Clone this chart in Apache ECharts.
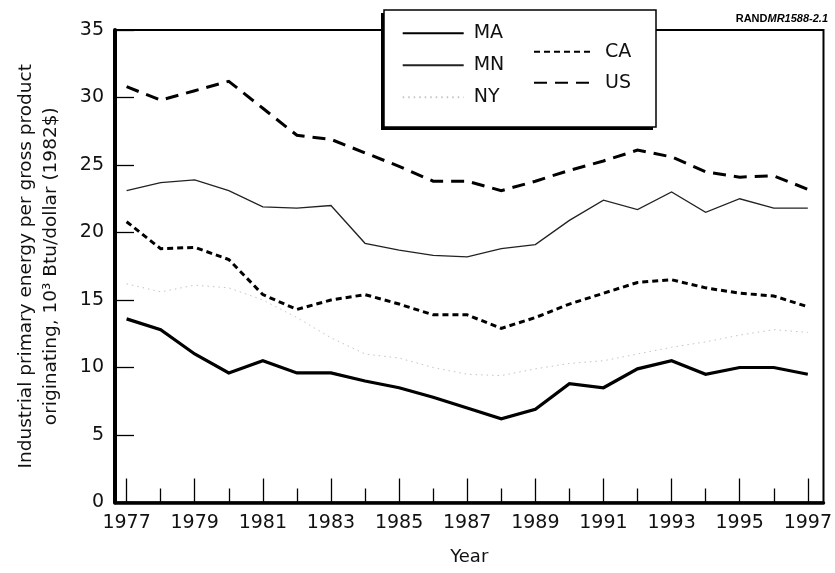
<!DOCTYPE html>
<html>
<head>
<meta charset="utf-8">
<script src="https://cdn.jsdelivr.net/npm/echarts@6/dist/echarts.min.js"></script>
<style>
  html, body { margin: 0; padding: 0; background: #fff; }
  #chart { width: 835px; height: 573px; }
</style>
</head>
<body>
<div id="chart"></div>
<script>
const years = [1977, 1978, 1979, 1980, 1981, 1982, 1983, 1984, 1985, 1986, 1987,
  1988, 1989, 1990, 1991, 1992, 1993, 1994, 1995, 1996, 1997];
const labelYears = [1977, 1979, 1981, 1983, 1985, 1987, 1989, 1991, 1993, 1995, 1997];
const minorYears = [1978, 1980, 1982, 1984, 1986, 1988, 1990, 1992, 1994, 1996];

const ma = [13.6, 12.8, 11.0, 9.6, 10.5, 9.6, 9.6, 9.0, 8.5, 7.8, 7.0, 6.2, 6.9, 8.8, 8.5, 9.9, 10.5, 9.5, 10.0, 10.0, 9.5];
const mn = [23.1, 23.7, 23.9, 23.1, 21.9, 21.8, 22.0, 19.2, 18.7, 18.3, 18.2, 18.8, 19.1, 20.9, 22.4, 21.7, 23.0, 21.5, 22.5, 21.8, 21.8];
const ny = [16.2, 15.6, 16.1, 15.9, 15.0, 13.7, 12.2, 11.0, 10.7, 10.0, 9.5, 9.4, 9.9, 10.3, 10.5, 11.0, 11.5, 11.9, 12.4, 12.8, 12.6];
const ca = [20.8, 18.8, 18.9, 18.0, 15.4, 14.3, 15.0, 15.4, 14.7, 13.9, 13.9, 12.9, 13.7, 14.7, 15.5, 16.3, 16.5, 15.9, 15.5, 15.3, 14.5];
const us = [30.8, 29.8, 30.5, 31.2, 29.2, 27.2, 26.9, 25.9, 24.9, 23.8, 23.8, 23.1, 23.8, 24.6, 25.3, 26.1, 25.6, 24.5, 24.1, 24.2, 23.2];

const font = 'DejaVu Sans';
const pairs = (vals) => years.map((y, i) => [y, vals[i]]);

const chart = echarts.init(document.getElementById('chart'));

const lineSeries = (name, vals, lineStyle) => ({
  name,
  type: 'line',
  data: pairs(vals),
  symbol: 'none',
  xAxisIndex: 0,
  lineStyle: Object.assign({ color: '#000', cap: 'butt', join: 'miter' }, lineStyle),
  itemStyle: { color: lineStyle.color || '#000' },
  z: 2,
});

// legend item: line sample only, no marker
const legendBase = {
  orient: 'vertical',
  padding: 0,
  itemHeight: 14,
  z: 10,
  itemStyle: { opacity: 0, borderWidth: 0 },
  textStyle: { fontFamily: font, fontSize: 19, color: '#111', lineHeight: 20 },
};

chart.setOption({
  backgroundColor: '#fff',
  animation: false,
  title: {
    text: '{a|RAND}{b|MR1588-2.1}',
    right: 2,
    top: 8,
    textStyle: {
      rich: {
        a: { fontFamily: 'Liberation Sans', fontWeight: 'bold', fontSize: 11, color: '#000' },
        b: { fontFamily: 'Liberation Sans', fontStyle: 'italic', fontSize: 11, color: '#000' },
      },
    },
  },
  graphic: [
    { type: 'rect', z: 5, shape: { x: 381, y: 13, width: 272, height: 117 }, style: { fill: '#000' } },
    { type: 'rect', z: 6, shape: { x: 384, y: 10, width: 272, height: 117 }, style: { fill: '#fff', stroke: '#000', lineWidth: 1.5 } },
  ],
  legend: [
    Object.assign({}, legendBase, {
      data: ['MA', 'MN', 'NY'],
      left: 401.7,
      top: 23.3,
      itemWidth: 61,
      itemGap: 12,
      textStyle: Object.assign({}, legendBase.textStyle, { padding: [0, 0, 0, 5] }),
    }),
    Object.assign({}, legendBase, {
      data: ['CA', 'US'],
      left: 533,
      top: 41.7,
      itemWidth: 57,
      itemGap: 11,
      textStyle: Object.assign({}, legendBase.textStyle, { padding: [0, 0, 0, 9] }),
    }),
  ],
  grid: {
    left: 115, right: 7.5, top: 30, bottom: 70.5,
    show: true, borderColor: '#000', borderWidth: 2,
  },
  xAxis: [
    {
      type: 'value',
      min: 1976.66,
      max: 1997.46,
      position: 'bottom',
      name: 'Year',
      nameLocation: 'middle',
      nameGap: 46,
      nameTextStyle: { fontFamily: font, fontSize: 18, color: '#111' },
      axisLine: { show: true, lineStyle: { color: '#000', width: 3.5 } },
      axisTick: { show: true, inside: true, length: 24, customValues: labelYears, lineStyle: { color: '#000', width: 1.3 } },
      axisLabel: { customValues: labelYears, fontFamily: font, fontSize: 19, color: '#111', margin: 11, formatter: (v) => String(v) },
      splitLine: { show: false },
    },
    {
      type: 'value',
      min: 1976.66,
      max: 1997.46,
      position: 'bottom',
      axisLine: { show: false },
      axisTick: { show: true, inside: true, length: 14, customValues: minorYears, lineStyle: { color: '#000', width: 1.3 } },
      axisLabel: { show: false },
      splitLine: { show: false },
    },
  ],
  yAxis: {
    type: 'value',
    min: 0,
    max: 35,
    interval: 5,
    name: 'Industrial primary energy per gross product\noriginating, 10³ Btu/dollar (1982$)',
    nameLocation: 'middle',
    nameGap: 51,
    nameTextStyle: { fontFamily: font, fontSize: 18.5, color: '#111', lineHeight: 25 },
    axisLine: { show: true, lineStyle: { color: '#000', width: 4 } },
    axisTick: { show: true, inside: true, length: 19, lineStyle: { color: '#000', width: 1.3 } },
    axisLabel: { fontFamily: font, fontSize: 19, color: '#111', margin: 11 },
    splitLine: { show: false },
  },
  series: [
    lineSeries('MA', ma, { width: 3.2 }),
    lineSeries('MN', mn, { width: 1.3, color: '#222' }),
    lineSeries('NY', ny, { width: 1, color: '#c4c4c4', type: [1.5, 4] }),
    lineSeries('CA', ca, { width: 3, type: [6, 4] }),
    lineSeries('US', us, { width: 3, type: [13, 8] }),
  ],
});

window.addEventListener('resize', () => chart.resize());
</script>
</body>
</html>
